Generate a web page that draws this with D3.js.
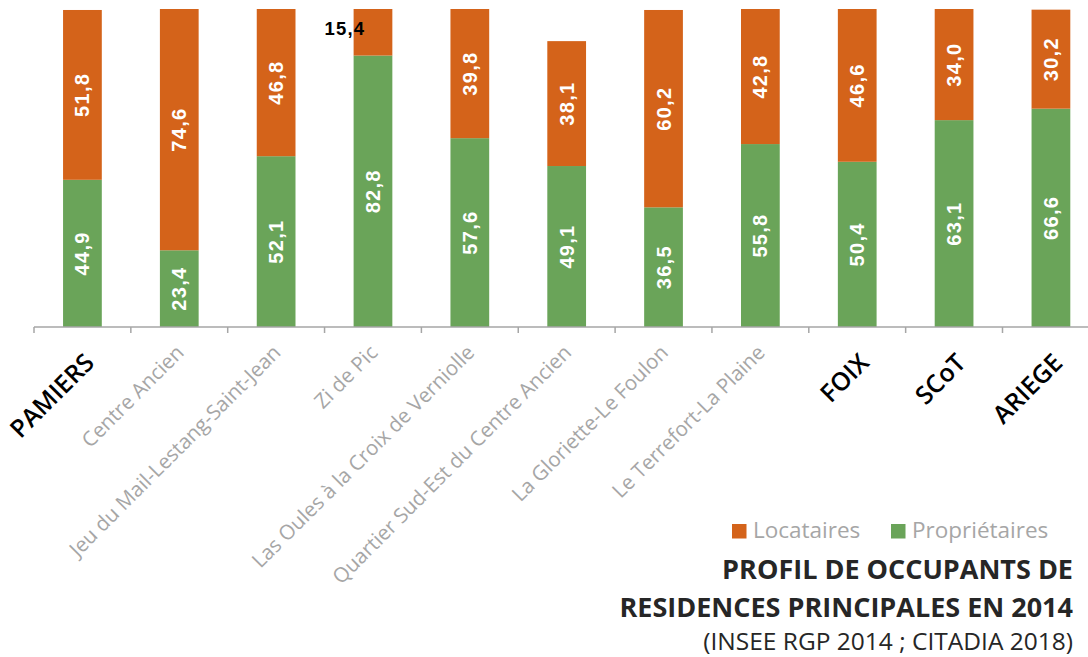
<!DOCTYPE html>
<html>
<head>
<meta charset="utf-8">
<script src="https://cdn.jsdelivr.net/npm/d3@7"></script>
<style>
  html, body { margin: 0; padding: 0; background: #ffffff; }
  svg { display: block; }
</style>
</head>
<body>
<div id="chart"></div>
<script>
// Territories (in display order) and their occupancy shares (%)
const categories = [
  "PAMIERS", "Centre Ancien", "Jeu du Mail-Lestang-Saint-Jean", "Zi de Pic",
  "Las Oules à la Croix de Verniolle", "Quartier Sud-Est du Centre Ancien",
  "La Gloriette-Le Foulon", "Le Terrefort-La Plaine", "FOIX", "SCoT", "ARIEGE"
];
const highlighted = ["PAMIERS", "FOIX", "SCoT", "ARIEGE"];
const proprietaires = [44.9, 23.4, 52.1, 82.8, 57.6, 49.1, 36.5, 55.8, 50.4, 63.1, 66.6];
const locataires    = [51.8, 74.6, 46.8, 15.4, 39.8, 38.1, 60.2, 42.8, 46.6, 34.0, 30.2];
const seriesNames = ["Locataires", "Propriétaires"];
const titleLines = ["PROFIL DE OCCUPANTS DE", "RESIDENCES PRINCIPALES EN 2014"];
const sourceLine = "(INSEE RGP 2014 ; CITADIA 2018)";

const W = 1088, H = 657;
const colors = { Locataires: "#d4631a", "Propriétaires": "#6aa459" };

const svg = d3.select("#chart").append("svg")
  .attr("width", W).attr("height", H);

const plotTop = 9, plotBottom = 327, axisLeft = 34;
const x = d3.scaleBand()
  .domain(categories)
  .range([axisLeft, axisLeft + 11 * 96.85])
  .paddingInner(0.6)
  .paddingOuter(0.3);
const y = d3.scaleLinear().domain([0, 97]).range([plotBottom, plotTop]);

svg.append("clipPath").attr("id", "plotClip")
  .append("rect").attr("x", 0).attr("y", plotTop).attr("width", W).attr("height", plotBottom - plotTop);

const rows = categories.map((c, i) => ({
  cat: c, "Propriétaires": proprietaires[i], Locataires: locataires[i]
}));
const stack = d3.stack().keys(["Propriétaires", "Locataires"])(rows);

const bars = svg.append("g").attr("clip-path", "url(#plotClip)");
stack.forEach(layer => {
  bars.selectAll(null).data(layer).join("rect")
    .attr("x", d => x(d.data.cat))
    .attr("width", x.bandwidth())
    .attr("y", d => y(d[1]))
    .attr("height", d => y(d[0]) - y(d[1]))
    .attr("fill", colors[layer.key]);
});

// Value labels, centred in the visible part of each segment
const fmt = v => v.toFixed(1).replace(".", ",");
stack.forEach(layer => {
  layer.forEach(d => {
    const top = Math.max(y(d[1]), plotTop), bottom = y(d[0]);
    const cx = x(d.data.cat) + x.bandwidth() / 2;
    const v = d[1] - d[0];
    if (bottom - top > 55) {
      svg.append("text")
        .attr("transform", `translate(${cx},${(top + bottom) / 2}) rotate(-90)`)
        .attr("text-anchor", "middle")
        .attr("dominant-baseline", "central")
        .attr("font-family", "Liberation Sans, Arial, sans-serif")
        .attr("font-weight", "bold")
        .attr("font-size", 20)
        .attr("letter-spacing", 1.3)
        .attr("fill", "#ffffff")
        .text(fmt(v));
    } else {
      svg.append("text")
        .attr("x", x(d.data.cat) + x.bandwidth() * 0.3)
        .attr("y", top + 26)
        .attr("text-anchor", "end")
        .attr("font-family", "Liberation Sans, Arial, sans-serif")
        .attr("font-weight", "bold")
        .attr("font-size", 18.5)
        .attr("letter-spacing", 1.2)
        .attr("fill", "#000000")
        .text(fmt(v));
    }
  });
});

// Category axis
const axisG = svg.append("g");
axisG.append("line")
  .attr("x1", axisLeft).attr("x2", W)
  .attr("y1", plotBottom).attr("y2", plotBottom)
  .attr("stroke", "#a6a6a6").attr("stroke-width", 1.5);
d3.range(categories.length + 1).forEach(i => {
  const tx = x.range()[0] + i * x.step();
  axisG.append("line")
    .attr("x1", tx).attr("x2", tx)
    .attr("y1", plotBottom).attr("y2", plotBottom + 6)
    .attr("stroke", "#a6a6a6").attr("stroke-width", 1.5);
});

categories.forEach(c => {
  const hi = highlighted.includes(c);
  const cx = x(c) + x.bandwidth() / 2;
  svg.append("text")
    .attr("transform", `translate(${cx + (hi ? 0 : -5)},${hi ? 351 : 343}) rotate(-45)`)
    .attr("text-anchor", "end")
    .attr("dy", "0.75em")
    .attr("font-family", "Open Sans, sans-serif")
    .attr("font-weight", hi ? 600 : 400)
    .attr("font-size", hi ? 25 : 20.5)
    .attr("fill", hi ? "#000000" : "#a6a6a6")
    .text(c);
});

// Legend
const legendItems = [
  { name: seriesNames[0], sx: 732, tx: 753 },
  { name: seriesNames[1], sx: 891, tx: 912 }
];
legendItems.forEach(it => {
  svg.append("rect").attr("x", it.sx).attr("y", 524).attr("width", 14.5).attr("height", 14.5)
    .attr("fill", colors[it.name]);
  svg.append("text").attr("x", it.tx).attr("y", 538)
    .attr("font-family", "Open Sans, sans-serif")
    .attr("font-size", 22.5)
    .attr("fill", "#a6a6a6")
    .text(it.name);
});

// Title block
titleLines.forEach((t, i) => {
  svg.append("text").attr("x", 1073).attr("y", 579 + i * 38)
    .attr("text-anchor", "end")
    .attr("font-family", "Open Sans, sans-serif")
    .attr("font-weight", "bold")
    .attr("font-size", 27)
    .attr("fill", "#262626")
    .text(t);
});
svg.append("text").attr("x", 1073).attr("y", 650)
  .attr("text-anchor", "end")
  .attr("font-family", "Open Sans, sans-serif")
  .attr("font-size", 24.5)
  .attr("fill", "#262626")
  .text(sourceLine);
</script>
</body>
</html>
